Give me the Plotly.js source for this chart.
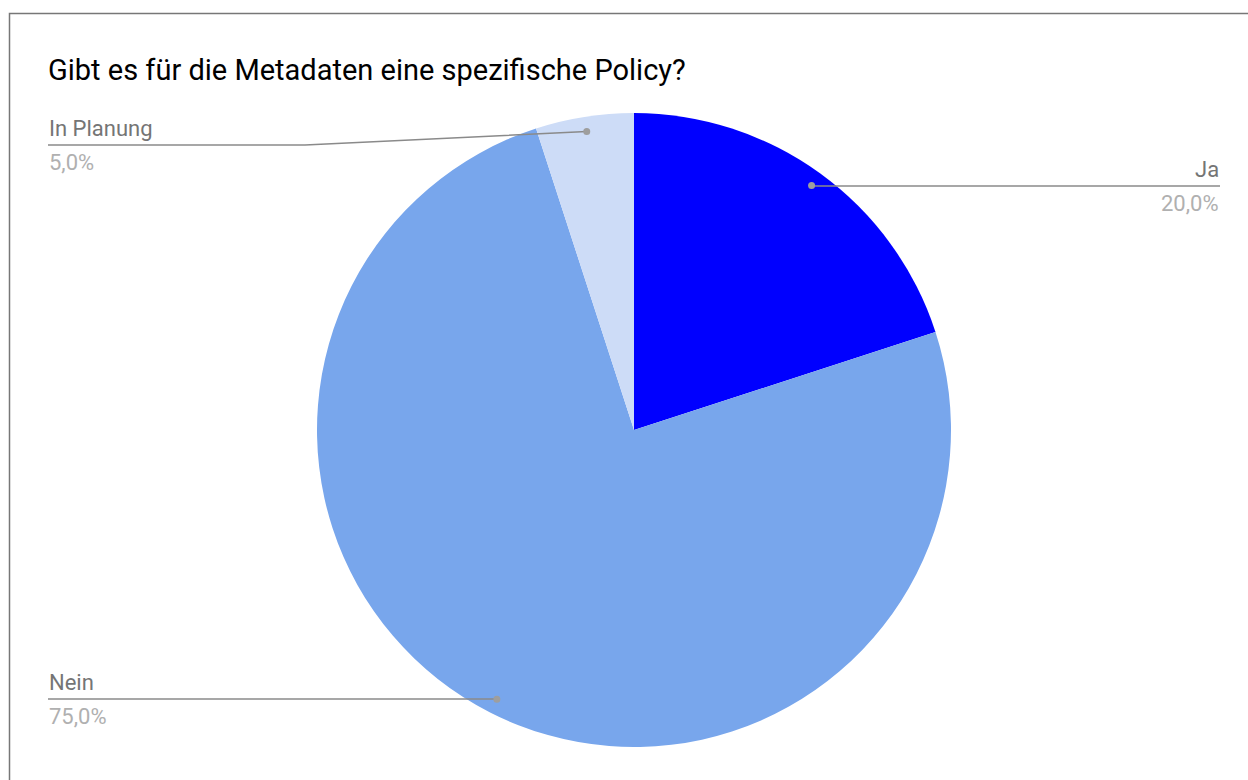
<!DOCTYPE html>
<html>
<head>
<meta charset="utf-8">
<script src="https://cdn.plot.ly/plotly-3.0.1.min.js"></script>
<style>
  html, body { margin: 0; padding: 0; background: #fff; }
  #chart { width: 1248px; height: 780px; }
</style>
</head>
<body>
<div id="chart"></div>
<script>
// ---- data ----
const categories = ["Ja", "Nein", "In Planung"];
const values = [20, 75, 5];
const percentLabels = ["20,0%", "75,0%", "5,0%"];
const colors = ["#0000ff", "#78a6ec", "#cddcf7"];
const titleText = "Gibt es für die Metadaten eine spezifische Policy?";

// ---- layout geometry (pixels) ----
const W = 1248, H = 780;
const cx = 634, cy = 430, R = 317;
const px = x => x / W;
const py = y => 1 - y / H;

// label placement per category
const labelSide = { "Ja": "right", "Nein": "left", "In Planung": "left" };
const labelLineY = { "Ja": 186, "Nein": 699, "In Planung": 145 };
const elbowX = { "In Planung": 305 };
const leftX = 48, rightX = 1220;

const total = values.reduce((a, b) => a + b, 0);
const shapes = [];
const annotations = [];
let cum = 0;
categories.forEach((cat, i) => {
  const mid = (cum + values[i] / 2) / total * 2 * Math.PI;
  cum += values[i];
  const dr = R * 0.953;
  const dx = cx + Math.sin(mid) * dr;
  const dy = cy - Math.cos(mid) * dr;
  const ly = labelLineY[cat];
  const endX = labelSide[cat] === "right" ? rightX : leftX;
  let path = `M ${px(dx)} ${py(dy)}`;
  if (elbowX[cat] !== undefined) {
    path += ` L ${px(elbowX[cat])} ${py(ly)}`;
  } else {
    path += ` L ${px(dx)} ${py(ly)}`;
  }
  path += ` L ${px(endX)} ${py(ly)}`;
  shapes.push({
    type: "path", xref: "paper", yref: "paper", path: path,
    line: { color: "#8a8a8a", width: 1.5 }
  });
  shapes.push({
    type: "circle", xref: "paper", yref: "paper",
    x0: px(dx - 3.5), x1: px(dx + 3.5), y0: py(dy + 3.5), y1: py(dy - 3.5),
    fillcolor: "#9e9e9e", line: { width: 0 }
  });
  const xa = labelSide[cat] === "right" ? "right" : "left";
  annotations.push({
    xref: "paper", yref: "paper", x: px(endX), y: py(ly - 3),
    xanchor: xa, yanchor: "bottom", showarrow: false, borderpad: 0,
    text: cat, font: { family: "Roboto", size: 22, color: "#757575" }
  });
  annotations.push({
    xref: "paper", yref: "paper", x: px(endX), y: py(ly + 4),
    xanchor: xa, yanchor: "top", showarrow: false, borderpad: 0,
    text: percentLabels[i], font: { family: "Roboto", size: 22, color: "#b0b0b0" }
  });
});

// frame
shapes.push({
  type: "rect", xref: "paper", yref: "paper",
  x0: px(9.5), x1: px(W + 5), y0: py(H + 5), y1: py(13.5),
  line: { color: "#777777", width: 1.5 }
});

const trace = {
  type: "pie",
  labels: categories,
  values: values,
  marker: { colors: colors, line: { width: 0 } },
  sort: false,
  direction: "clockwise",
  rotation: 0,
  textinfo: "none",
  hoverinfo: "label+percent",
  showlegend: false,
  domain: { x: [px(cx - R), px(cx + R)], y: [py(cy + R), py(cy - R)] }
};

const layout = {
  width: W, height: H,
  margin: { l: 0, r: 0, t: 0, b: 0 },
  paper_bgcolor: "#ffffff",
  title: {
    text: titleText,
    x: px(48), xanchor: "left", xref: "paper",
    y: py(70), yanchor: "middle", yref: "paper",
    font: { family: "Roboto", size: 29, color: "#000000" }
  },
  shapes: shapes,
  annotations: annotations
};

Plotly.newPlot("chart", [trace], layout, { displayModeBar: false, staticPlot: true });
</script>
</body>
</html>
